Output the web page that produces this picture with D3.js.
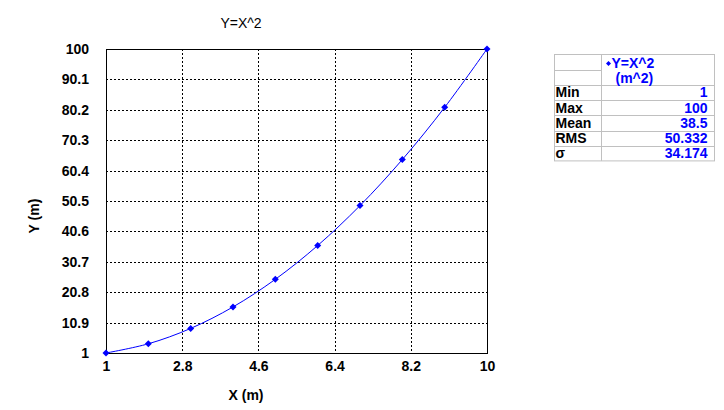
<!DOCTYPE html>
<html><head><meta charset="utf-8">
<script src="https://cdn.jsdelivr.net/npm/d3@7"></script>
<style>
body{margin:0;background:#fff;}
text{font-family:"Liberation Sans",Arial,sans-serif;}
</style></head>
<body>
<svg id="c" width="724" height="410"></svg>
<script>
const xValues = [1,2,3,4,5,6,7,8,9,10];
const yValues = [1,4,9,16,25,36,49,64,81,100];
const xTicks = [1,2.8,4.6,6.4,8.2,10];
const yTicks = [1,10.9,20.8,30.7,40.6,50.5,60.4,70.3,80.2,90.1,100];
const statLabels = ["Min","Max","Mean","RMS","σ"];
const statValues = ["1","100","38.5","50.332","34.174"];
const seriesName = "Y=X^2";
const seriesUnit = "(m^2)";

const svg = d3.select("#c");
const L=106,R=487,T=49,B=353;
const x = d3.scaleLinear().domain([1,10]).range([L,R]);
const y = d3.scaleLinear().domain([1,100]).range([B,T]);

// grid
const g = svg.append("g");
g.selectAll(".gx").data(xTicks.slice(1,-1)).enter().append("line")
 .attr("x1",d=>Math.round(x(d))+0.5).attr("x2",d=>Math.round(x(d))+0.5)
 .attr("y1",T).attr("y2",B).attr("stroke","#000").attr("stroke-dasharray","2,2");
g.selectAll(".gy").data(yTicks.slice(1,-1)).enter().append("line")
 .attr("y1",d=>Math.round(y(d))+0.5).attr("y2",d=>Math.round(y(d))+0.5)
 .attr("x1",L).attr("x2",R).attr("stroke","#000").attr("stroke-dasharray","2,2");
// frame
svg.append("rect").attr("x",L+0.5).attr("y",T+0.5).attr("width",R-L).attr("height",B-T)
 .attr("fill","none").attr("stroke","#000");

// axes labels using d3 axes
const xa = svg.append("g").attr("transform",`translate(0,${B})`)
 .call(d3.axisBottom(x).tickValues(xTicks).tickSize(0).tickPadding(8).tickFormat(d=>d3.format("~g")(d)));
const ya = svg.append("g").attr("transform",`translate(${L},0)`)
 .call(d3.axisLeft(y).tickValues(yTicks).tickSize(0).tickPadding(17).tickFormat(d=>d3.format("~g")(d)));
[xa,ya].forEach(a=>{a.select(".domain").remove();
 a.selectAll("text").attr("font-size",14).attr("font-weight","bold").attr("fill","#000")
  .style("font-family","'Liberation Sans',Arial,sans-serif");});

// curve
const pts = xValues.map((v,i)=>[v,yValues[i]]);
svg.append("path").datum(pts).attr("fill","none").attr("stroke","#0000ff").attr("stroke-width",1)
 .attr("d",d3.line().x(d=>x(d[0])).y(d=>y(d[1])).curve(d3.curveCatmullRom));
svg.selectAll(".m").data(pts).enter().append("path")
 .attr("transform",d=>`translate(${x(d[0])},${y(d[1])})`)
 .attr("d","M0,-3.5L3.5,0L0,3.5L-3.5,0Z").attr("fill","#0000ff");

// titles
svg.append("text").attr("x",241).attr("y",28).attr("text-anchor","middle")
 .attr("font-size",14).text(seriesName);
svg.append("text").attr("x",246).attr("y",400).attr("text-anchor","middle")
 .attr("font-size",14).attr("font-weight","bold").text("X (m)");
svg.append("text").attr("transform","translate(39,216) rotate(-90)").attr("text-anchor","middle")
 .attr("font-size",14).attr("font-weight","bold").text("Y (m)");

// stats table
const tx0=554.5,tx1=601.5,tx2=714.5,ty0=54.5,rh=15.2;
const tb=svg.append("g");
const rows = statLabels.length+2;
const yb = ty0+rows*rh;
tb.append("rect").attr("x",tx0).attr("y",ty0).attr("width",tx2-tx0).attr("height",yb-ty0)
 .attr("fill","#fff").attr("stroke","#c0c0c0");
tb.append("line").attr("x1",tx1).attr("x2",tx1).attr("y1",ty0).attr("y2",yb).attr("stroke","#c0c0c0");
for(let i=1;i<rows;i++){
  const yy=Math.round(ty0+i*rh)+0.5;
  tb.append("line").attr("x1",tx0).attr("x2",i===1?tx1:tx2).attr("y1",yy).attr("y2",yy).attr("stroke","#c0c0c0");
}
tb.append("path").attr("transform",`translate(${tx1+7},${ty0+9})`).attr("d","M0,-2.5L2.5,0L0,2.5L-2.5,0Z").attr("fill","#0000ff");
tb.append("text").attr("x",tx1+10).attr("y",ty0+13).attr("font-size",14).attr("font-weight","bold").attr("fill","#0000ff").text(seriesName);
tb.append("text").attr("x",tx1+14).attr("y",ty0+28).attr("font-size",14).attr("font-weight","bold").attr("fill","#0000ff").text(seriesUnit);
statLabels.forEach((s,i)=>{
  const yy=ty0+(i+2)*rh+12.5;
  tb.append("text").attr("x",tx0+1).attr("y",yy).attr("font-size",14).attr("font-weight","bold").attr("fill","#000").text(s);
  tb.append("text").attr("x",tx2-7).attr("y",yy).attr("text-anchor","end").attr("font-size",14).attr("font-weight","bold").attr("fill","#0000ff").text(statValues[i]);
});
</script>
</body></html>
